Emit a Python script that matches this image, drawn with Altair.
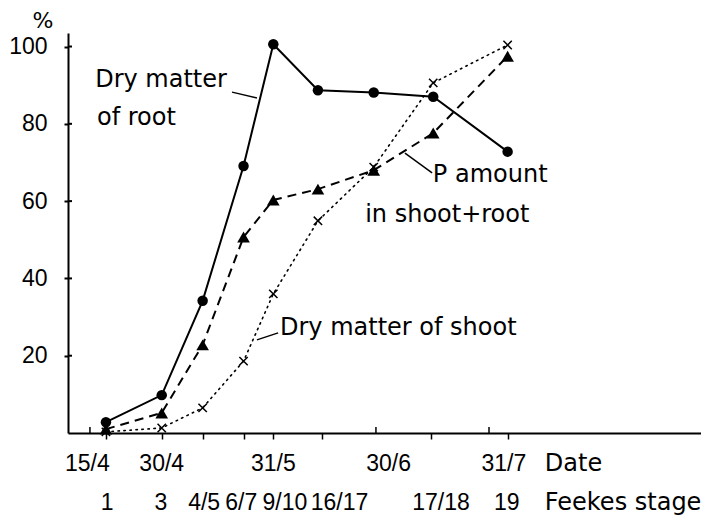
import altair as alt
import pandas as pd

# ---- data (x = days after 15 April) ----
sample_days = [0, 15, 26, 37, 45, 57, 72, 88, 108]
root_dm = [2.8, 9.8, 34.2, 69.1, 100.6, 88.7, 88.1, 87.0, 72.8]
p_amount = [1.0, 5.2, 22.8, 50.7, 60.3, 63.1, 68.0, 77.6, 97.5]
shoot_dm = [0.3, 1.3, 6.5, 18.6, 36.0, 54.9, 68.8, 90.6, 100.4]

y_ticks = [20, 40, 60, 80, 100]

date_labels = ["15/4", "30/4", "31/5", "30/6", "31/7"]
date_label_days = [-5, 15, 45, 76, 107]

feekes_labels = ["1", "3", "4/5", "6/7", "9/10", "16/17", "17/18", "19"]
feekes_label_days = [0.3, 14.8, 26.4, 36.4, 48.1, 62.8, 90.1, 107.8]
feekes_tick_days = [0, 15, 26, 37, 45, 58, 87.4, 108]
date_mark_days = [-4.3, 72.6, 103]

row_titles = ["Date", "Feekes stage"]
row_title_day = 118

annot_text = ["Dry matter", "of root", "P amount", "in shoot+root", "Dry matter of shoot"]
annot_x = [-2.9, -2.4, 87.9, 69.7, 46.8]
annot_y = [89.5, 79.7, 64.9, 54.6, 25.4]

leader_x1 = [33.9, 80.4, 40.6]
leader_y1 = [88.2, 72.4, 24.1]
leader_x2 = [40.6, 87.7, 46.3]
leader_y2 = [86.7, 67.3, 25.9]

# ---- tables ----
df = pd.DataFrame({"day": sample_days, "root": root_dm, "p": p_amount, "shoot": shoot_dm})
df_dates = pd.DataFrame({"day": date_label_days, "t": date_labels})
df_feekes = pd.DataFrame({"day": feekes_label_days, "t": feekes_labels})
df_titles = pd.DataFrame({"day": [row_title_day, row_title_day], "t": row_titles, "row": [0, 1]})
df_annot = pd.DataFrame({"x": annot_x, "y": annot_y, "t": annot_text})
df_lead = pd.DataFrame({"x1": leader_x1, "y1": leader_y1, "x2": leader_x2, "y2": leader_y2})
df_yt = pd.DataFrame({"v": y_ticks})
df_dm = pd.DataFrame({"day": date_mark_days})

xscale = alt.Scale(domain=[-10.2, 160], nice=False, zero=False)
yscale = alt.Scale(domain=[0, 103.5], nice=False, zero=True)
xaxis = alt.Axis(values=feekes_tick_days, labels=False, tickSize=6, tickWidth=1.5,
                 tickColor="black", domainColor="black", domainWidth=2, grid=False, title=None)
yaxis = alt.Axis(values=y_ticks, tickSize=4, tickWidth=2, tickColor="black",
                 domainColor="black", domainWidth=2, grid=False, title=None,
                 labelPadding=17, labelFont="Liberation Sans", labelFontSize=23,
                 labelColor="black")


def X(f):
    return alt.X(f, type="quantitative", scale=xscale, axis=xaxis)


def Y(f):
    return alt.Y(f, type="quantitative", scale=yscale, axis=yaxis)


base = alt.Chart(df)

root_line = base.mark_line(color="black", strokeWidth=2).encode(x=X("day"), y=Y("root"))
p_line = base.mark_line(color="black", strokeWidth=2, strokeDash=[9, 6]).encode(x=X("day"), y=Y("p"))
shoot_line = base.mark_line(color="black", strokeWidth=1.6, strokeDash=[1.5, 4.5],
                            strokeCap="round").encode(x=X("day"), y=Y("shoot"))

root_pts = base.mark_point(shape="circle", filled=True, color="black", size=110, opacity=1).encode(
    x=X("day"), y=Y("root"))
p_pts = base.mark_point(shape="triangle-up", filled=True, color="black", size=160, opacity=1).encode(
    x=X("day"), y=Y("p"))
shoot_pts = base.mark_point(shape="M-1,-1L1,1M-1,1L1,-1", filled=False, color="black",
                            strokeWidth=1.5, size=70, opacity=1).encode(x=X("day"), y=Y("shoot"))

ytick_in = alt.Chart(df_yt).mark_rule(color="black", strokeWidth=2).encode(
    x=alt.value(0), x2=alt.value(4), y=Y("v"))

date_marks = alt.Chart(df_dm).mark_rule(color="black", strokeWidth=1.5).encode(
    x=X("day"), y=alt.value(400), y2=alt.value(394))

date_text = alt.Chart(df_dates).mark_text(font="Liberation Sans", fontSize=23, color="black",
                                          align="center", baseline="middle").encode(
    x=X("day"), y=alt.value(431), text="t:N")

feekes_text = alt.Chart(df_feekes).mark_text(font="Liberation Sans", fontSize=23, color="black",
                                             align="center", baseline="middle").encode(
    x=X("day"), y=alt.value(470), text="t:N")

title_text0 = alt.Chart(df_titles).transform_filter("datum.row == 0").mark_text(
    font="DejaVu Sans", fontSize=24, color="black", align="left", baseline="middle").encode(
    x=X("day"), y=alt.value(431), text="t:N")
title_text1 = alt.Chart(df_titles).transform_filter("datum.row == 1").mark_text(
    font="DejaVu Sans", fontSize=24, color="black", align="left", baseline="middle").encode(
    x=X("day"), y=alt.value(470), text="t:N")

pct = alt.Chart(df_yt).transform_filter("datum.v == 100").mark_text(
    text="%", font="DejaVu Sans", fontSize=22, color="black", align="center", baseline="middle").encode(
    x=alt.value(-25), y=alt.value(-12))

annots = alt.Chart(df_annot).mark_text(font="DejaVu Sans", fontSize=24, color="black",
                                       align="left", baseline="alphabetic").encode(
    x=X("x"), y=Y("y"), text="t:N")

leaders = alt.Chart(df_lead).mark_rule(color="black", strokeWidth=1.5).encode(
    x=X("x1"), y=Y("y1"), x2="x2:Q", y2="y2:Q")

chart = alt.layer(
    root_line, p_line, shoot_line, root_pts, p_pts, shoot_pts,
    ytick_in, date_marks, date_text, feekes_text, title_text0, title_text1, pct, annots, leaders
).properties(
    width=633, height=400,
    autosize=alt.AutoSizeParams(type="none"),
    padding={"left": 60, "top": 25, "right": 0, "bottom": 82},
    background="white",
).configure_view(stroke=None)

chart.save("out.html", embed_options={"renderer": "svg", "actions": False})
